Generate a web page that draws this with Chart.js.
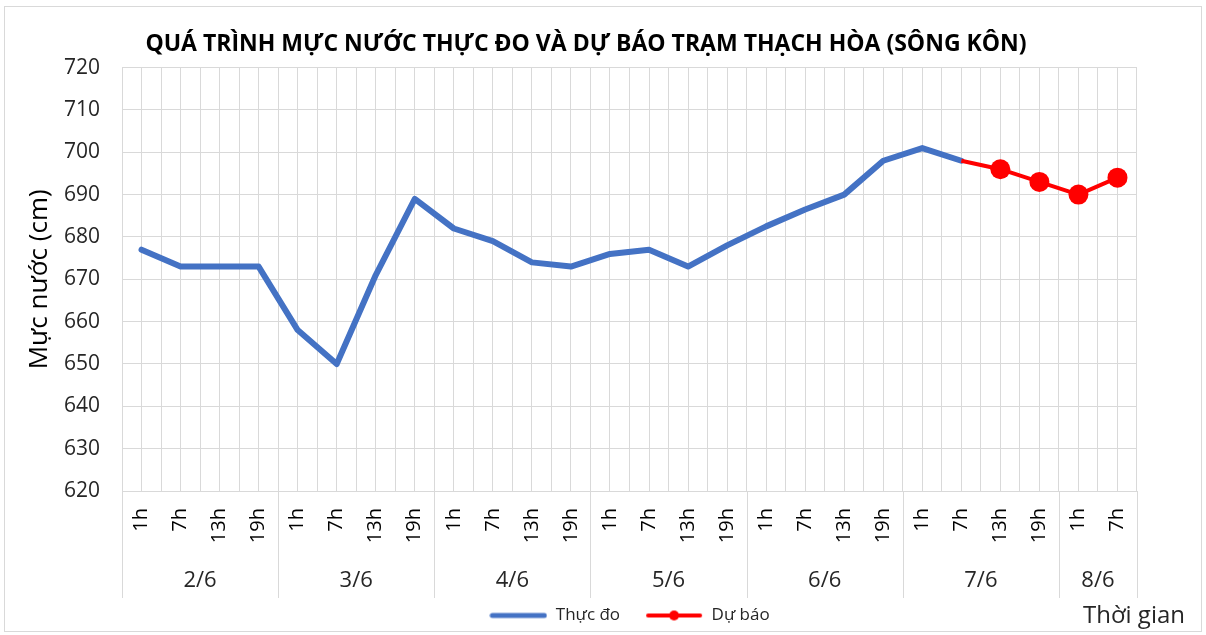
<!DOCTYPE html>
<html lang="vi">
<head>
<meta charset="UTF-8" />
<title>Mực nước trạm Thạch Hòa</title>
<script src="https://cdn.jsdelivr.net/npm/chart.js@4.4.1/dist/chart.umd.min.js"></script>
<style>
  html, body { margin: 0; padding: 0; background: #fff; }
  #wrap { position: relative; width: 1206px; height: 635px; }
  #frame { position: absolute; left: 4px; top: 6px; width: 1196px; height: 624px; border: 1px solid #d9d9d9; }
  #chart { position: absolute; left: 0; top: 0; }
</style>
</head>
<body>
<div id="wrap">
  <div id="frame"></div>
  <canvas id="chart" width="1206" height="635"></canvas>
</div>
<script>
const hourLabels = [
  '1h', '7h', '13h', '19h',
  '1h', '7h', '13h', '19h',
  '1h', '7h', '13h', '19h',
  '1h', '7h', '13h', '19h',
  '1h', '7h', '13h', '19h',
  '1h', '7h', '13h', '19h',
  '1h', '7h'
];
const dayLabels = ['2/6', '3/6', '4/6', '5/6', '6/6', '7/6', '8/6'];
const daySizes = [4, 4, 4, 4, 4, 4, 2];

// Thực đo (cm)
const observed = [
  677, 673, 673, 673,
  658, 650, 671, 689,
  682, 679, 674, 673,
  676, 677, 673, 678,
  682.5, 686.5, 690, 698,
  701, 698, null, null,
  null, null
];
// Dự báo (cm)
const forecast = [
  null, null, null, null,
  null, null, null, null,
  null, null, null, null,
  null, null, null, null,
  null, null, null, null,
  null, 698, 696, 693,
  690, 694
];

const BLUE = '#4472C4';
const RED = '#FF0000';
const GRID = '#d9d9d9';

Chart.defaults.font.family = '"Open Sans", sans-serif';
Chart.defaults.color = '#262626';

function legendIcon(color, width, dot) {
  const c = document.createElement('canvas');
  c.width = 58;
  c.height = 14;
  const g = c.getContext('2d');
  g.strokeStyle = color;
  g.lineWidth = width;
  g.lineCap = 'round';
  g.beginPath();
  g.moveTo(3, 7);
  g.lineTo(55, 7);
  g.stroke();
  if (dot) {
    g.fillStyle = color;
    g.beginPath();
    g.arc(29, 7, 5, 0, Math.PI * 2);
    g.fill();
  }
  return c;
}
const legendIcons = [legendIcon(BLUE, 5, false), legendIcon(RED, 4, true)];

// day groups under the hour ticks, plus the "Thời gian" axis label
const dayGroups = {
  id: 'dayGroups',
  afterDraw(chart) {
    const { ctx, chartArea, scales: { x } } = chart;
    const half = (x.getPixelForValue(1) - x.getPixelForValue(0)) / 2;
    const bottom = chartArea.bottom + 107;
    ctx.save();
    ctx.strokeStyle = GRID;
    ctx.lineWidth = 1;
    ctx.fillStyle = '#262626';
    ctx.font = '22px "Open Sans"';
    ctx.textAlign = 'center';
    ctx.textBaseline = 'middle';
    const edges = [x.getPixelForValue(0) - half];
    let start = 0;
    daySizes.forEach((n, i) => {
      const left = x.getPixelForValue(start) - half;
      const right = x.getPixelForValue(start + n - 1) + half;
      ctx.fillText(dayLabels[i], (left + right) / 2, chartArea.bottom + 90);
      edges.push(right);
      start += n;
    });
    edges.forEach(px => {
      const p = Math.round(px) + 0.5;
      ctx.beginPath();
      ctx.moveTo(p, chartArea.bottom);
      ctx.lineTo(p, bottom);
      ctx.stroke();
    });
    ctx.font = '24px "Open Sans"';
    ctx.textAlign = 'right';
    ctx.fillText('Thời gian', chartArea.right + 48, chartArea.bottom + 125);
    ctx.restore();
  }
};

new Chart(document.getElementById('chart'), {
  type: 'line',
  data: {
    labels: hourLabels,
    datasets: [
      {
        label: 'Thực đo',
        data: observed,
        borderColor: BLUE,
        backgroundColor: BLUE,
        borderWidth: 6,
        borderCapStyle: 'round',
        borderJoinStyle: 'round',
        pointRadius: 0,
        tension: 0,
        order: 1
      },
      {
        label: 'Dự báo',
        data: forecast,
        borderColor: RED,
        backgroundColor: RED,
        borderWidth: 4,
        borderJoinStyle: 'round',
        pointRadius: forecast.map((v, i) => (i === 21 ? 0 : 10)),
        pointBorderWidth: 0,
        tension: 0,
        order: 0
      }
    ]
  },
  options: {
    responsive: false,
    animation: false,
    layout: { padding: { left: 35, right: 69, top: 0, bottom: 1 } },
    plugins: {
      tooltip: { enabled: false },
      title: {
        display: true,
        text: 'QUÁ TRÌNH MỰC NƯỚC THỰC ĐO VÀ DỰ BÁO TRẠM THẠCH HÒA (SÔNG KÔN)',
        color: '#000',
        font: { size: 23, weight: 'bold' },
        padding: { top: 31, bottom: 9 }
      },
      legend: {
        position: 'bottom',
        fullSize: false,
        labels: {
          usePointStyle: true,
          pointStyleWidth: 58,
          padding: 25,
          color: '#262626',
          font: { size: 17 },
          sort: (a, b) => a.datasetIndex - b.datasetIndex,
          generateLabels: chart =>
            Chart.defaults.plugins.legend.labels.generateLabels(chart).map(l => ({
              ...l,
              pointStyle: legendIcons[l.datasetIndex]
            }))
        }
      }
    },
    scales: {
      x: {
        offset: true,
        grid: { color: GRID, offset: false, drawTicks: false },
        border: { color: GRID },
        ticks: {
          autoSkip: false,
          minRotation: 90,
          maxRotation: 90,
          padding: 17,
          color: '#000',
          font: { size: 20 }
        },
        afterFit: s => { s.height = 91; }
      },
      x2: {
        type: 'category',
        labels: hourLabels,
        position: 'top',
        offset: true,
        grid: { color: GRID, offset: true, drawTicks: false },
        border: { display: false },
        ticks: { display: false },
        afterFit: s => { s.height = 0; }
      },
      y: {
        min: 620,
        max: 720,
        grid: { color: GRID, drawTicks: false },
        border: { color: GRID },
        ticks: { stepSize: 10, padding: 22, font: { size: 21 }, color: '#262626' },
        title: {
          display: true,
          text: 'Mực nước (cm)',
          color: '#000',
          font: { size: 26 },
          padding: { top: -11, bottom: 0 }
        },
        afterFit: s => { s.width = 87; }
      }
    }
  },
  plugins: [dayGroups]
});
</script>
</body>
</html>
